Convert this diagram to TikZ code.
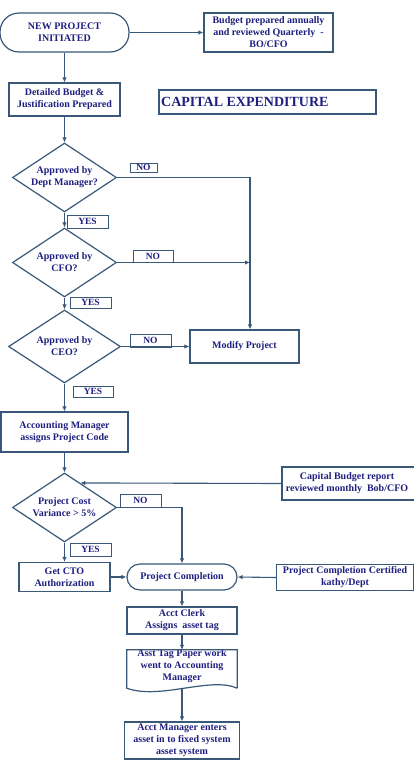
\documentclass[tikz,border=0pt]{standalone}
\usepackage{fontspec}
\setmainfont{Liberation Serif}
\usetikzlibrary{arrows.meta,shapes.geometric,calc}
\definecolor{ln}{HTML}{3A5878}
\definecolor{tx}{HTML}{1F1F80}
\begin{document}
\begin{tikzpicture}[x=1pt,y=-1pt,
  every node/.style={font=\bfseries\fontsize{10}{12}\selectfont, text=tx, align=center, inner sep=0pt},
  box/.style={draw=ln, line width=1.2pt, rectangle},
  term/.style={draw=ln, line width=1.2pt, rectangle, rounded corners=#1},
  dec/.style={draw=ln, line width=1.2pt, diamond},
  lab/.style={draw=ln, line width=1pt, rectangle, font=\bfseries\fontsize{9.5}{11}\selectfont},
  conn/.style={draw=ln, line width=1.1pt},
  arr/.style={conn, -{Latex[length=5pt,width=4.5pt]}}
]
\useasboundingbox (0,0) rectangle (413,761);
\fill[white] (0,0) rectangle (413,761);

% nodes
\node[term=19pt, minimum width=129, minimum height=39] (start) at (64.5,32.5) {NEW PROJECT\\INITIATED};
\node[box, minimum width=129, minimum height=39] (budget) at (268.5,32.5) {Budget prepared annually\\and reviewed Quarterly\ \ -\\BO/CFO};
\node[box, minimum width=111, minimum height=33] (detail) at (64.5,99.5) {Detailed Budget \&\\Justification Prepared};
\node[box, minimum width=217, minimum height=24] (cap) at (267.5,102) {};
\node[anchor=west, font=\bfseries\fontsize{14}{16}\selectfont] (captxt) at (161,102) {CAPITAL EXPENDITURE};

\node[dec, minimum width=104, minimum height=69] (d1) at (64.5,177.5) {};
\node (d1t) at (d1) {Approved by\\Dept Manager?};
\node[lab, minimum width=27, minimum height=9] (no1) at (143.5,167.5) {NO};
\node[lab, minimum width=41, minimum height=13] (yes1) at (87.5,221.5) {YES};

\node[dec, minimum width=104, minimum height=69] (d2) at (64.5,262.5) {};
\node (d2t) at (d2) {Approved by\\CFO?};
\node[lab, minimum width=40, minimum height=12] (no2) at (153,256) {NO};
\node[lab, minimum width=41, minimum height=11] (yes2) at (90.5,302.5) {YES};

\node[dec, minimum width=112, minimum height=73] (d3) at (64.5,346.5) {};
\node (d3t) at (d3) {Approved by\\CEO?};
\node[lab, minimum width=41, minimum height=13] (no3) at (150.5,340.5) {NO};
\node[box, minimum width=109, minimum height=33] (modify) at (244.5,346.5) {Modify Project};
\node[lab, minimum width=40, minimum height=11] (yes3) at (93,391.5) {YES};

\node[box, minimum width=127, minimum height=40] (acct) at (64.5,432) {Accounting Manager\\assigns Project Code};

\node[dec, minimum width=104, minimum height=69] (d4) at (64.5,507.5) {};
\node (d4t) at (d4) {Project Cost\\Variance \textgreater\ 5\%};
\node[box, minimum width=134, minimum height=33] (capb) at (349,483.5) {};
\node (capbt) at (347,483.5) {Capital Budget report\\reviewed monthly\ \ Bob/CFO};
\node[lab, minimum width=41, minimum height=13] (no4) at (140.5,500.5) {NO};
\node[lab, minimum width=41, minimum height=13] (yes4) at (90.5,549.5) {YES};

\node[box, minimum width=91, minimum height=29] (cto) at (64.5,577) {Get CTO\\Authorization};
\node[term=13pt, minimum width=110, minimum height=26] (pc) at (182,577) {Project Completion};
\node[box, minimum width=137, minimum height=26] (pcc) at (345,577.5) {Project Completion Certified\\kathy/Dept};

\node[box, minimum width=110, minimum height=27] (clerk) at (182,620.5) {Acct Clerk\\Assigns\ \ asset tag};
\node[minimum width=110, minimum height=38] (doc) at (182,669) {};
\node (doct) at (182,666.5) {Asst Tag Paper work\\went to Accounting\\Manager};
\draw[conn, line width=1.2pt] (doc.south east) -- (doc.north east) -- (doc.north west) -- (doc.south west)
  .. controls ($(doc.south west)+(33,12)$) and ($(doc.south east)+(-27,-12)$) .. (doc.south east);
\node[box, minimum width=115, minimum height=37] (mgr) at (182,740.5) {Acct Manager enters\\asset in to fixed system\\asset system};

% connectors
\coordinate (vx) at (250,0);
\draw[arr] (start.east) -- (budget.west |- start.east);
\draw[arr] (start.south) -- (start.south |- detail.north);
\draw[arr] (detail.south) -- (detail.south |- d1.north);
\draw[arr] (d1.east) -| (vx |- modify.north);
\draw[arr] (d1.south) -- (d2.north);
\draw[arr] (d2.east) -- (vx |- d2.east);
\draw[arr] (d2.south) -- (d3.north);
\draw[arr] (d3.east) -- (modify.west);
\draw[arr] (d3.south) -- (acct.north);
\draw[arr] (acct.south) -- (d4.north);
\draw[arr] (capb.west) -- ($(d4.north)!0.3!(d4.east)$);
\draw[arr] (d4.east) -| (pc.north);
\draw[arr] (d4.south) -- (cto.north);
\draw[arr] (cto.east) -- (pc.west);
\draw[arr] (pcc.west) -- (pc.east);
\draw[arr] (pc.south) -- (clerk.north);
\draw[arr] (clerk.south) -- (doc.north);
\draw[arr] (doc.south) -- (mgr.north);
\end{tikzpicture}
\end{document}
